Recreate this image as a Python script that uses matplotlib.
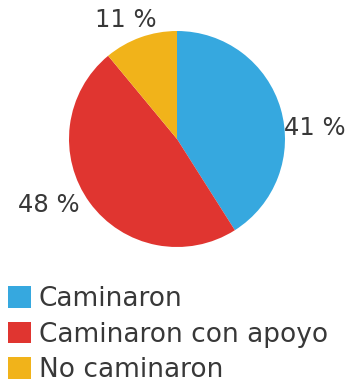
import matplotlib
matplotlib.use("Agg")
import matplotlib.pyplot as plt

# Data
categories = ["Caminaron", "Caminaron con apoyo", "No caminaron"]
values = [41, 48, 11]
colors = ["#36a8df", "#e03530", "#f1b31a"]
label_pos = [(1.28, 0.10), (-1.19, -0.61), (-0.47, 1.10)]

W, H = 358, 391
fig = plt.figure(figsize=(W / 100, H / 100), dpi=100)
# pie centre at (177, 139) px, radius 108 px
r = 108
ax = fig.add_axes([(177 - r) / W, (H - 139 - r) / H, 2 * r / W, 2 * r / H])

wedges, _ = ax.pie(values, colors=colors, startangle=90, counterclock=False,
                   radius=1, wedgeprops=dict(linewidth=0))
ax.set_xlim(-1, 1)
ax.set_ylim(-1, 1)
ax.set_aspect("equal")
ax.axis("off")

for v, (x, y) in zip(values, label_pos):
    ax.text(x, y, f"{v} %", ha="center", va="center", fontsize=17.5,
            color="#383838", clip_on=False)

fig.legend(wedges, categories, loc="upper left",
           bbox_to_anchor=(8 / W, (H - 286) / H), frameon=False,
           fontsize=19, handlelength=0.87, handleheight=0.87,
           handletextpad=0.3, labelspacing=0.36, borderpad=0,
           borderaxespad=0, labelcolor="#383838")

fig.savefig("out.png", dpi=100)
